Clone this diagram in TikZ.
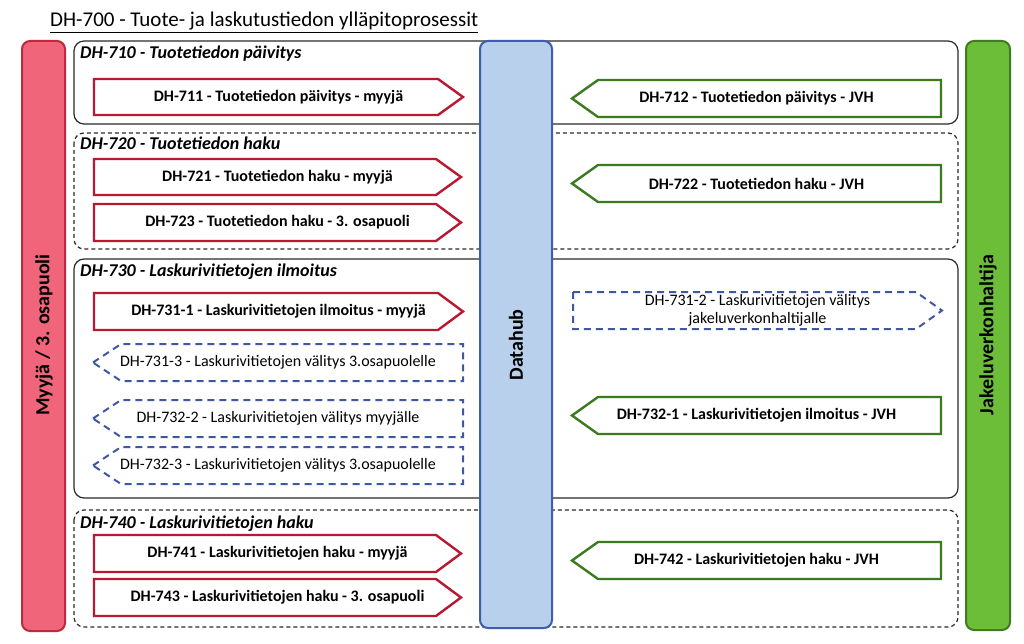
\documentclass[tikz,border=0pt]{standalone}
\usepackage{fontspec}
\setmainfont{Carlito}
\definecolor{rbarfill}{HTML}{F0657A}
\definecolor{rbarline}{HTML}{C0283C}
\definecolor{rarrline}{HTML}{B81830}
\definecolor{garrline}{HTML}{3B7A1E}
\definecolor{gbarfill}{HTML}{6CBE38}
\definecolor{gbarline}{HTML}{3E7C22}
\definecolor{dhfill}{HTML}{B9D0EC}
\definecolor{dhline}{HTML}{3F5DAA}
\definecolor{bdash}{HTML}{3F58A0}
\definecolor{grpline}{HTML}{2A2A2A}
\tikzset{
  redarrow/.style={draw=rarrline, line width=2.4pt, fill=white, line join=miter},
  greenarrow/.style={draw=garrline, line width=2.4pt, fill=white, line join=miter},
  bluearrow/.style={draw=bdash, line width=2pt, fill=white, dash pattern=on 7pt off 5pt},
  arrtxt/.style={font=\fontsize{16}{18}\selectfont\bfseries, inner sep=0pt},
  bluetxt/.style={font=\fontsize{16}{18}\selectfont, inner sep=0pt, align=center},
  grpsolid/.style={draw=grpline, line width=1.2pt, rounded corners=10pt},
  grpdash/.style={draw=grpline, line width=1.2pt, rounded corners=10pt, dash pattern=on 4pt off 3pt},
  grplabel/.style={font=\fontsize{18}{20}\selectfont\bfseries\itshape, inner sep=0pt, anchor=base west},
  bar/.style={line width=2pt, rounded corners=8pt},
  bartxt/.style={font=\fontsize{20}{22}\selectfont\bfseries, rotate=90, inner sep=0pt},
}
% right-pointing red arrow: name, x1, y1, x2(tip), y2, text
\newcommand\redR[6]{%
  \draw[redarrow] (#2,#3) -- (#4-25,#3) -- (#4,{(#3+#5)/2}) -- (#4-25,#5) -- (#2,#5) -- cycle;
  \node[arrtxt] (#1) at ({(#2+#4)/2},{(#3+#5)/2}) {#6};}
% left-pointing green arrow: name, x1(tip), y1, x2, y2, text
\newcommand\greenL[6]{%
  \draw[greenarrow] (#2,{(#3+#5)/2}) -- (#2+26,#3) -- (#4,#3) -- (#4,#5) -- (#2+26,#5) -- cycle;
  \node[arrtxt] (#1) at ({(#2+#4)/2},{(#3+#5)/2}) {#6};}
% left-pointing blue dashed arrow
\newcommand\blueL[6]{%
  \draw[bluearrow] (#2,{(#3+#5)/2}) -- (#2+28,#3) -- (#4,#3) -- (#4,#5) -- (#2+28,#5) -- cycle;
  \node[bluetxt] (#1) at ({(#2+#4)/2},{(#3+#5)/2}) {#6};}
% right-pointing blue dashed arrow
\newcommand\blueR[6]{%
  \draw[bluearrow] (#2,#3) -- (#4-26,#3) -- (#4,{(#3+#5)/2}) -- (#4-26,#5) -- (#2,#5) -- cycle;
  \node[bluetxt] (#1) at ({(#2+#4)/2},{(#3+#5)/2}) {#6};}
\begin{document}
\begin{tikzpicture}[x=1pt,y=-1pt]
\useasboundingbox[fill=white] (0,0) rectangle (1024,644);
% title
\node[font=\fontsize{21}{23}\selectfont, inner sep=0pt, anchor=base west] (title) at (50,27) {\underline{DH-700 - Tuote- ja laskutustiedon ylläpitoprosessit}};
% groups
\draw[grpsolid] (74,41) rectangle (958,124);
\draw[grpdash] (74,133) rectangle (958,249);
\draw[grpsolid] (74,259) rectangle (958,498);
\draw[grpdash] (74,510) rectangle (958,627);
\node[grplabel] (g710) at (80,59) {DH-710 - Tuotetiedon päivitys};
\node[grplabel] (g720) at (80,150) {DH-720 - Tuotetiedon haku};
\node[grplabel] (g730) at (80,276) {DH-730 - Laskurivitietojen ilmoitus};
\node[grplabel] (g740) at (80,528) {DH-740 - Laskurivitietojen haku};
% bars
\draw[bar, draw=rbarline, fill=rbarfill] (22,41) rectangle (65,631);
\node[bartxt] (myyja) at (44,335) {Myyjä / 3. osapuoli};
\draw[bar, draw=dhline, fill=dhfill] (480,41) rectangle (552,628);
\node[bartxt] (datahub) at (516,345) {Datahub};
\draw[bar, draw=gbarline, fill=gbarfill] (966,41) rectangle (1010,630);
\node[bartxt] (jvh) at (988,335) {Jakeluverkonhaltija};
% red arrows
\redR{a711}{94}{79}{463}{115}{DH-711 - Tuotetiedon päivitys - myyjä}
\redR{a721}{94}{159}{461}{195}{DH-721 - Tuotetiedon haku - myyjä}
\redR{a723}{94}{204}{461}{241}{DH-723 - Tuotetiedon haku - 3. osapuoli}
\redR{a7311}{94}{293}{463}{330}{DH-731-1 - Laskurivitietojen ilmoitus - myyjä}
\redR{a741}{94}{535}{461}{572}{DH-741 - Laskurivitietojen haku - myyjä}
\redR{a743}{94}{579}{461}{616}{DH-743 - Laskurivitietojen haku - 3. osapuoli}
% blue dashed
\blueL{a7313}{93}{344}{463}{381}{DH-731-3 - Laskurivitietojen välitys 3.osapuolelle}
\blueL{a7322}{93}{400}{463}{437}{DH-732-2 - Laskurivitietojen välitys myyjälle}
\blueL{a7323}{93}{447}{463}{484}{DH-732-3 - Laskurivitietojen välitys 3.osapuolelle}
\blueR{a7312}{573}{292}{942}{329}{DH-731-2 - Laskurivitietojen välitys\\jakeluverkonhaltijalle}
% green arrows
\greenL{a712}{572}{80}{941}{117}{DH-712 - Tuotetiedon päivitys - JVH}
\greenL{a722}{572}{165}{941}{202}{DH-722 - Tuotetiedon haku - JVH}
\greenL{a7321}{572}{397}{941}{434}{DH-732-1 - Laskurivitietojen ilmoitus - JVH}
\greenL{a742}{572}{542}{941}{579}{DH-742 - Laskurivitietojen haku - JVH}
\end{tikzpicture}
\end{document}
